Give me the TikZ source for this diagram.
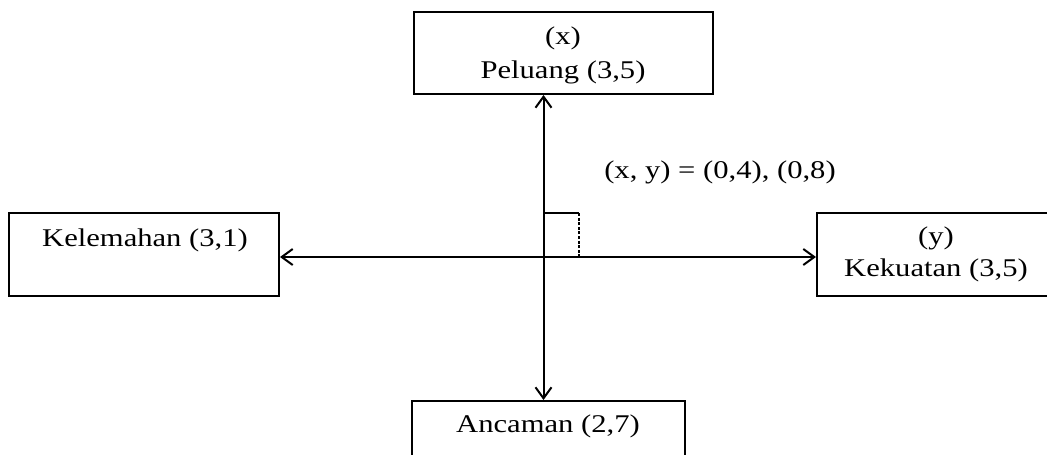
\documentclass[tikz,border=0pt]{standalone}
\usepackage{fontspec}
\setmainfont{Liberation Serif}[FakeStretch=1.2]
\usetikzlibrary{arrows.meta}
\begin{document}
\begin{tikzpicture}[x=1pt,y=-1pt,
  box/.style={draw=black,line width=2pt,rectangle,inner sep=0pt},
  lbl/.style={anchor=base,inner sep=0pt,font=\fontsize{25.5pt}{30pt}\selectfont},
  axis/.style={line width=2pt,{Straight Barb[length=11pt,width=16pt,line width=2pt]}-{Straight Barb[length=11pt,width=16pt,line width=2pt]}}]
\useasboundingbox (0,0) rectangle (1047,455);
\clip (0,0) rectangle (1047,455);
\fill[white] (0,0) rectangle (1047,455);
% boxes
\node[box,minimum width=299pt,minimum height=82pt] (top) at (563.5,53) {};
\node[box,minimum width=270pt,minimum height=83pt] (left) at (144,254.5) {};
\node[box,minimum width=240pt,minimum height=83pt] (right) at (937,254.5) {};
\node[box,minimum width=273pt,minimum height=90pt] (bot) at (548.5,446) {};
% texts
\node[lbl] (tx1) at (563,44) {(x)};
\node[lbl] (tx2) at (563,78) {Peluang (3,5)};
\node[lbl] (lx) at (145,246) {Kelemahan (3,1)};
\node[lbl] (ry1) at (936,244) {(y)};
\node[lbl] (ry2) at (936,276) {Kekuatan (3,5)};
\node[lbl] (bt) at (548,432) {Ancaman (2,7)};
\node[lbl] (xy) at (720,178) {(x, y) = (0,4), (0,8)};
% axes
\coordinate (c) at (543.5,257);
\draw[axis] (c |- top.south) -- (c |- bot.north);
\draw[axis] (left.east |- c) -- (right.west |- c);
% right-angle marker
\coordinate (m1) at (543.5,213);
\coordinate (m2) at (579,213);
\coordinate (m3) at (579,257);
\draw[line width=2.8pt] (m1) -- (m2);
\draw[line width=2.6pt,dash pattern=on 3pt off 1.6pt] (m2) -- (m3);
\end{tikzpicture}
\end{document}
